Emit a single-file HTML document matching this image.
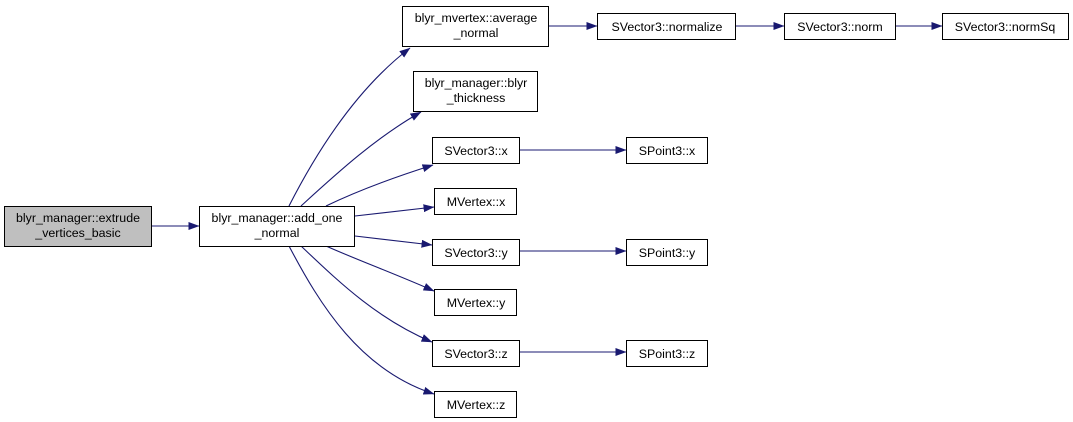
<!DOCTYPE html>
<html><head><meta charset="utf-8"><style>
html,body{margin:0;padding:0;background:#fff;}
svg{display:block;font-family:"Liberation Sans",Arial,sans-serif;font-size:12.4px;}
</style></head><body>
<svg width="1073" height="422" viewBox="0 0 1073 422" xmlns="http://www.w3.org/2000/svg">
<defs>
<marker id="a" markerWidth="11" markerHeight="8" refX="10.5" refY="4" orient="auto" markerUnits="userSpaceOnUse">
<path d="M0,0 L11,4 L0,8 Z" fill="#191970"/>
</marker>
</defs>
<g fill="none" stroke="#191970" stroke-width="1.1" marker-end="url(#a)">
<path d="M152,226 L199,226"/>
<path d="M289,206 C315,155 355,90 410,48"/>
<path d="M301,206 C335,175 375,138 421,112"/>
<path d="M326,206 C355,192 395,177 433,165"/>
<path d="M355,216 L434,207"/>
<path d="M355,236 L432,245"/>
<path d="M326,246 C355,259 398,275 434,291"/>
<path d="M301,246 C335,278 375,318 432,342"/>
<path d="M289,246 C320,305 360,370 434,394"/>
<path d="M549,26 L597,26"/>
<path d="M736,26 L784,26"/>
<path d="M896,26 L942,26"/>
<path d="M520,150 L626,150"/>
<path d="M520,251 L626,251"/>
<path d="M520,352 L626,352"/>
</g>
<g stroke="#000" stroke-width="1">
<rect x="4.5" y="206.5" width="147" height="40" fill="#bfbfbf"/>
<rect x="199.5" y="206.5" width="155" height="40" fill="#fff"/>
<rect x="402.5" y="6.5" width="146" height="40" fill="#fff"/>
<rect x="413.5" y="71.5" width="124" height="40" fill="#fff"/>
<rect x="432.5" y="137.5" width="87" height="26" fill="#fff"/>
<rect x="434.5" y="188.5" width="82" height="26" fill="#fff"/>
<rect x="432.5" y="239.5" width="87" height="26" fill="#fff"/>
<rect x="434.5" y="289.5" width="82" height="26" fill="#fff"/>
<rect x="432.5" y="340.5" width="87" height="26" fill="#fff"/>
<rect x="434.5" y="391.5" width="82" height="26" fill="#fff"/>
<rect x="597.5" y="13.5" width="138" height="26" fill="#fff"/>
<rect x="784.5" y="13.5" width="111" height="26" fill="#fff"/>
<rect x="942.5" y="13.5" width="126" height="26" fill="#fff"/>
<rect x="626.5" y="137.5" width="81" height="26" fill="#fff"/>
<rect x="626.5" y="239.5" width="81" height="26" fill="#fff"/>
<rect x="626.5" y="340.5" width="81" height="26" fill="#fff"/>
</g>
<g fill="#000" text-anchor="middle">
<text x="78" y="222">blyr_manager::extrude</text>
<text x="78" y="237">_vertices_basic</text>
<text x="277" y="222">blyr_manager::add_one</text>
<text x="277" y="237">_normal</text>
<text x="476" y="22">blyr_mvertex::average</text>
<text x="476" y="37">_normal</text>
<text x="476" y="87">blyr_manager::blyr</text>
<text x="476" y="102">_thickness</text>
<text x="476" y="155">SVector3::x</text>
<text x="476" y="206">MVertex::x</text>
<text x="476" y="257">SVector3::y</text>
<text x="476" y="307">MVertex::y</text>
<text x="476" y="358">SVector3::z</text>
<text x="476" y="409">MVertex::z</text>
<text x="667" y="31">SVector3::normalize</text>
<text x="840" y="31">SVector3::norm</text>
<text x="1005" y="31">SVector3::normSq</text>
<text x="667" y="155">SPoint3::x</text>
<text x="667" y="257">SPoint3::y</text>
<text x="667" y="358">SPoint3::z</text>
</g>
</svg>
</body></html>
